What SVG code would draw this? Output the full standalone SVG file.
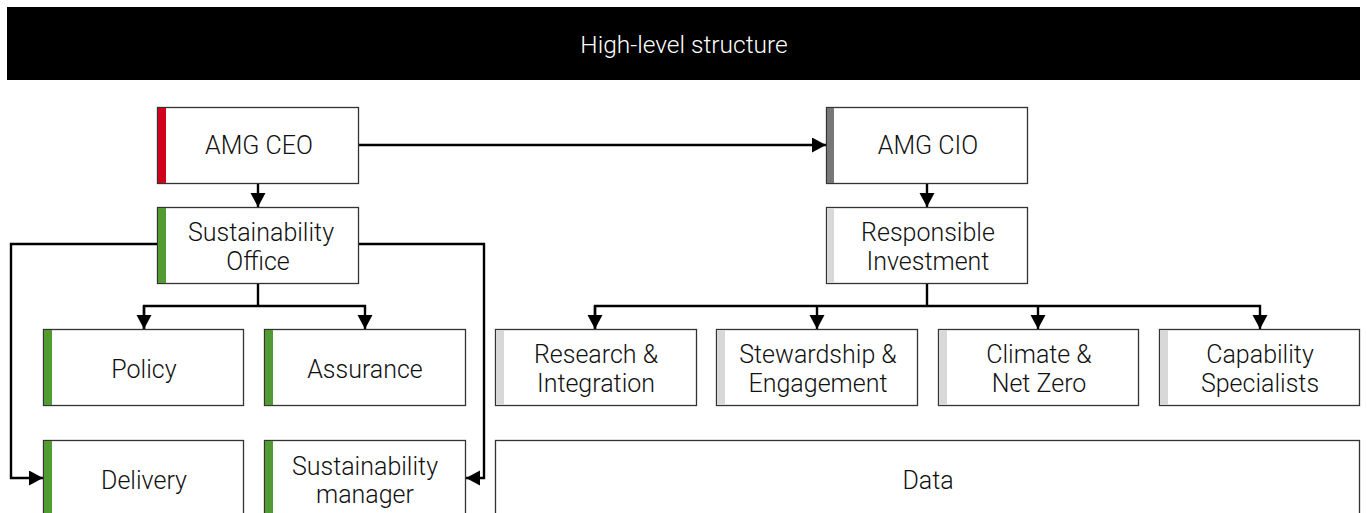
<svg xmlns="http://www.w3.org/2000/svg" width="1367" height="513" viewBox="0 0 1367 513">
<defs>
<marker id="ah" markerWidth="16" markerHeight="16" viewBox="0 0 16 16" refX="14" refY="7.5" orient="auto" markerUnits="userSpaceOnUse">
<path d="M0,0 L14,7.5 L0,15 Z" fill="#000"/>
</marker>
<style>
.box{fill:#fff;stroke:#333;stroke-width:1.3}
.t{font-family:Roboto,"Liberation Sans",sans-serif;font-weight:300;font-size:25px;fill:#111;text-anchor:middle}
.red{fill:#d0021b}
.green{fill:#519b32}
.dgray{fill:#777}
.lgray{fill:#d8d8d8}
.c{fill:none;stroke:#000;stroke-width:2.4}
</style>
</defs>
<rect width="1367" height="513" fill="#fff"/>
<g id="header">
<rect x="7" y="7" width="1353" height="73" fill="#000"/>
<text x="684" y="53" font-family="Roboto,'Liberation Sans',sans-serif" font-weight="300" font-size="24.5" fill="#fff" text-anchor="middle">High-level structure</text>
</g>
<g id="connectors">
<line class="c" x1="358" y1="145" x2="826" y2="145" marker-end="url(#ah)"/>
<line class="c" x1="258" y1="183" x2="258" y2="207" marker-end="url(#ah)"/>
<line class="c" x1="927" y1="183" x2="927" y2="207" marker-end="url(#ah)"/>
<polyline class="c" points="157,244 11,244 11,478 43,478" marker-end="url(#ah)"/>
<polyline class="c" points="358,244 484,244 484,478 466,478" marker-end="url(#ah)"/>
<line class="c" x1="258" y1="283" x2="258" y2="306"/>
<polyline class="c" points="144,329 144,306 365,306 365,329" marker-end="url(#ah)"/>
<line class="c" x1="144" y1="306" x2="144" y2="329" marker-end="url(#ah)"/>
<line class="c" x1="927" y1="283" x2="927" y2="306"/>
<polyline class="c" points="595,329 595,306 1260,306 1260,329" marker-end="url(#ah)"/>
<line class="c" x1="595" y1="306" x2="595" y2="329" marker-end="url(#ah)"/>
<line class="c" x1="817" y1="306" x2="817" y2="329" marker-end="url(#ah)"/>
<line class="c" x1="1038" y1="306" x2="1038" y2="329" marker-end="url(#ah)"/>
</g>
<g id="ceo">
<rect class="box" x="157.5" y="107.5" width="201" height="76"/>
<rect class="red" x="158" y="108" width="8" height="75"/>
<text class="t" x="259" y="154">AMG CEO</text>
</g>
<g id="cio">
<rect class="box" x="826.5" y="107.5" width="201" height="76"/>
<rect class="dgray" x="827" y="108" width="7" height="75"/>
<text class="t" x="928" y="154">AMG CIO</text>
</g>
<g id="sustainability-office">
<rect class="box" x="157.5" y="207.5" width="201" height="76"/>
<rect class="green" x="158" y="208" width="8" height="75"/>
<text class="t" x="261" y="241">Sustainability</text>
<text class="t" x="258" y="270">Office</text>
</g>
<g id="responsible-investment">
<rect class="box" x="826.5" y="207.5" width="201" height="76"/>
<rect class="lgray" x="827" y="208" width="7" height="75"/>
<text class="t" x="928" y="241">Responsible</text>
<text class="t" x="928" y="270">Investment</text>
</g>
<g id="policy">
<rect class="box" x="43.5" y="329.5" width="200" height="76"/>
<rect class="green" x="44" y="330" width="8" height="75"/>
<text class="t" x="144" y="378">Policy</text>
</g>
<g id="assurance">
<rect class="box" x="264.5" y="329.5" width="201" height="76"/>
<rect class="green" x="265" y="330" width="8" height="75"/>
<text class="t" x="365" y="378">Assurance</text>
</g>
<g id="research">
<rect class="box" x="495.5" y="329.5" width="201" height="76"/>
<rect class="lgray" x="496" y="330" width="8" height="75"/>
<text class="t" x="596" y="363">Research &amp;</text>
<text class="t" x="596" y="392">Integration</text>
</g>
<g id="stewardship">
<rect class="box" x="716.5" y="329.5" width="201" height="76"/>
<rect class="lgray" x="717" y="330" width="8" height="75"/>
<text class="t" x="818" y="363">Stewardship &amp;</text>
<text class="t" x="818" y="392">Engagement</text>
</g>
<g id="climate">
<rect class="box" x="938.5" y="329.5" width="200" height="76"/>
<rect class="lgray" x="939" y="330" width="8" height="75"/>
<text class="t" x="1039" y="363">Climate &amp;</text>
<text class="t" x="1039" y="392">Net Zero</text>
</g>
<g id="capability">
<rect class="box" x="1159.5" y="329.5" width="200" height="76"/>
<rect class="lgray" x="1160" y="330" width="8" height="75"/>
<text class="t" x="1260" y="363">Capability</text>
<text class="t" x="1260" y="392">Specialists</text>
</g>
<g id="delivery">
<rect class="box" x="43.5" y="440.5" width="200" height="80"/>
<rect class="green" x="44" y="441" width="8" height="75"/>
<text class="t" x="144" y="489">Delivery</text>
</g>
<g id="sustainability-manager">
<rect class="box" x="264.5" y="440.5" width="201" height="80"/>
<rect class="green" x="265" y="441" width="8" height="75"/>
<text class="t" x="365" y="475">Sustainability</text>
<text class="t" x="365" y="503">manager</text>
</g>
<g id="data">
<rect class="box" x="495.5" y="440.5" width="864" height="80"/>
<text class="t" x="928" y="489">Data</text>
</g>
</svg>
